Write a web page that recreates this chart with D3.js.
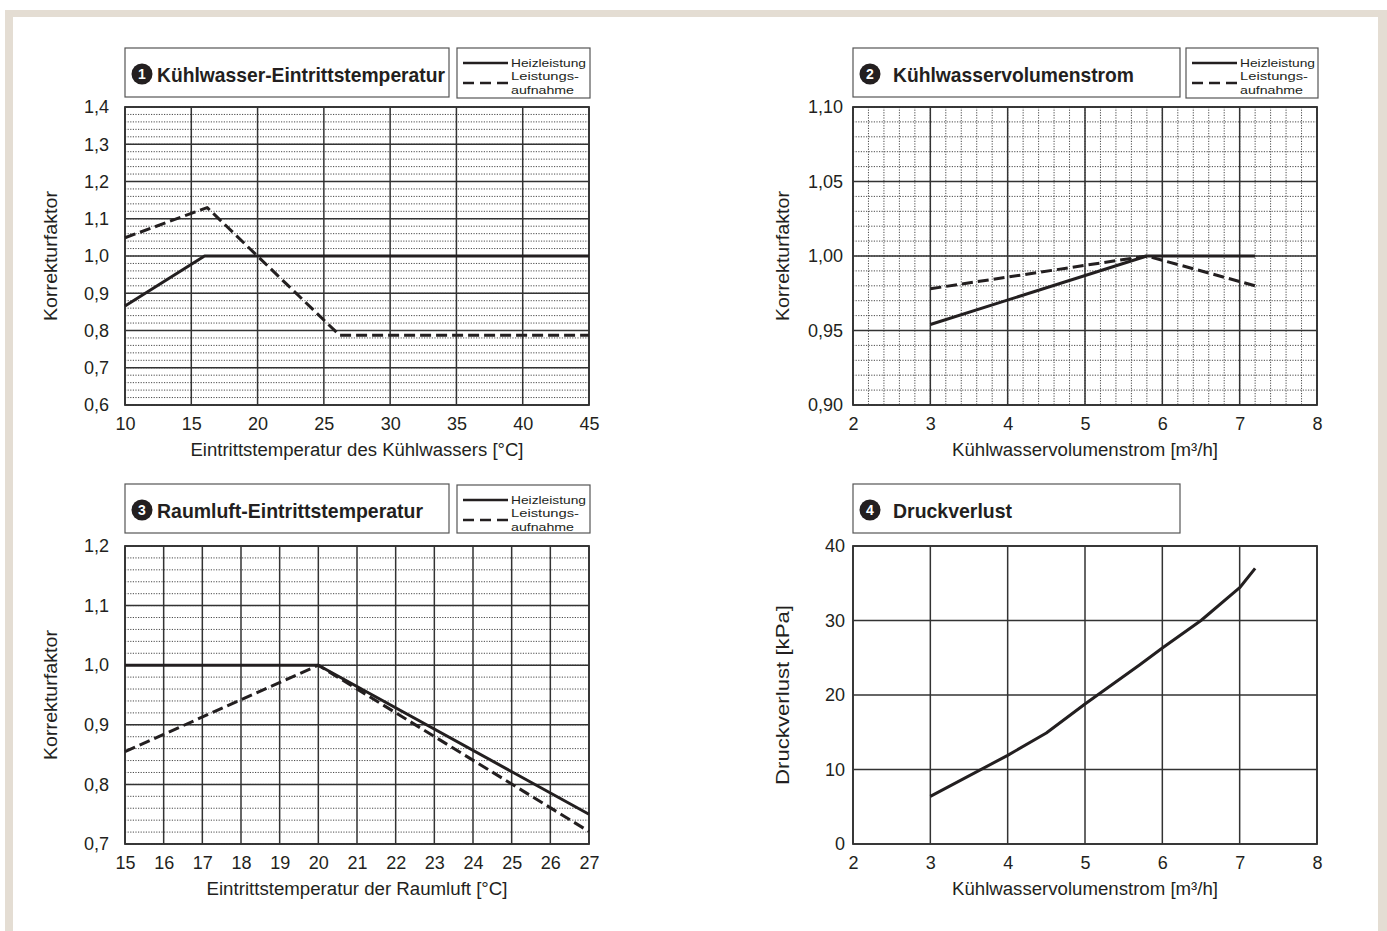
<!DOCTYPE html>
<html>
<head>
<meta charset="utf-8">
<script src="https://cdn.jsdelivr.net/npm/d3@7"></script>
<style>
  body { margin: 0; background: #fff; }
  text { font-family: 'Liberation Sans Narrow', 'Liberation Sans', Arial, sans-serif; fill: #231f20; }
  .num { font-family: 'Liberation Sans', Arial, sans-serif; }
</style>
</head>
<body>
<svg id="chart" width="1387" height="931"></svg>
<script>
// ---- Tick labels ----
const p1XTicks = [10, 15, 20, 25, 30, 35, 40, 45];
const p1YTicks = [0.6, 0.7, 0.8, 0.9, 1.0, 1.1, 1.2, 1.3, 1.4];
const p2XTicks = [2, 3, 4, 5, 6, 7, 8];
const p2YTicks = [0.90, 0.95, 1.00, 1.05, 1.10];
const p3XTicks = [15, 16, 17, 18, 19, 20, 21, 22, 23, 24, 25, 26, 27];
const p3YTicks = [0.7, 0.8, 0.9, 1.0, 1.1, 1.2];
const p4XTicks = [2, 3, 4, 5, 6, 7, 8];
const p4YTicks = [0, 10, 20, 30, 40];

// ---- Series ----
// 1: Kühlwasser-Eintrittstemperatur [°C] -> Korrekturfaktor
const p1TempHeiz = [10, 16, 45];
const p1Heizleistung = [0.866, 1.0, 1.0];
const p1TempAuf = [10, 16.2, 26.2, 45];
const p1Leistungsaufnahme = [1.049, 1.13, 0.787, 0.787];

// 2: Kühlwasservolumenstrom [m³/h] -> Korrekturfaktor
const p2FlowHeiz = [3, 5.8, 7.2];
const p2Heizleistung = [0.954, 1.0, 1.0];
const p2FlowAuf = [3, 5.8, 7.2];
const p2Leistungsaufnahme = [0.978, 1.0, 0.980];

// 3: Raumluft-Eintrittstemperatur [°C] -> Korrekturfaktor
const p3TempHeiz = [15, 20, 27];
const p3Heizleistung = [1.0, 1.0, 0.75];
const p3TempAuf = [15, 20, 27];
const p3Leistungsaufnahme = [0.855, 1.0, 0.721];

// 4: Kühlwasservolumenstrom [m³/h] -> Druckverlust [kPa]
const p4Flow = [3, 4, 4.5, 5, 5.7, 6, 6.5, 7, 7.2];
const p4Druckverlust = [6.4, 11.9, 14.9, 18.8, 24.0, 26.3, 30.0, 34.4, 37.0];

// ---- Legend entries ----
const legendLines = ['Heizleistung', 'Leistungs-', 'aufnahme'];

const svg = d3.select('#chart');
const INK = '#231f20';

// page frame
svg.append('rect').attr('x', 5).attr('y', 10).attr('width', 1382).attr('height', 931).attr('fill', '#e4ddd3');
svg.append('rect').attr('x', 13).attr('y', 17).attr('width', 1365).attr('height', 931).attr('fill', '#fff');

function comma(d, digits) {
  return d.toFixed(digits).replace('.', ',');
}

function panel(cfg) {
  const g = svg.append('g');
  const x = d3.scaleLinear().domain(cfg.xDomain).range([cfg.left, cfg.right]);
  const y = d3.scaleLinear().domain(cfg.yDomain).range([cfg.bottom, cfg.top]);

  const eps = 1e-9;
  // minor grid (dotted)
  if (cfg.yMinor) {
    const vals = d3.range(cfg.yDomain[0], cfg.yDomain[1] + eps, cfg.yMinor);
    g.append('g').selectAll('line').data(vals).join('line')
      .attr('x1', cfg.left).attr('x2', cfg.right)
      .attr('y1', d => y(d)).attr('y2', d => y(d))
      .attr('stroke', '#4a4a4a').attr('stroke-width', 1).attr('stroke-dasharray', '1.2,1.4');
  }
  if (cfg.xMinor) {
    const vals = d3.range(cfg.xDomain[0], cfg.xDomain[1] + eps, cfg.xMinor);
    g.append('g').selectAll('line').data(vals).join('line')
      .attr('y1', cfg.top).attr('y2', cfg.bottom)
      .attr('x1', d => x(d)).attr('x2', d => x(d))
      .attr('stroke', '#4a4a4a').attr('stroke-width', 1).attr('stroke-dasharray', '1.2,1.4');
  }
  // major grid
  g.append('g').selectAll('line').data(cfg.yTicks).join('line')
    .attr('x1', cfg.left).attr('x2', cfg.right)
    .attr('y1', d => y(d)).attr('y2', d => y(d))
    .attr('stroke', '#333').attr('stroke-width', 1.5);
  g.append('g').selectAll('line').data(cfg.xGrid).join('line')
    .attr('y1', cfg.top).attr('y2', cfg.bottom)
    .attr('x1', d => x(d)).attr('x2', d => x(d))
    .attr('stroke', '#333').attr('stroke-width', 1.5);
  g.append('rect').attr('x', cfg.left).attr('y', cfg.top)
    .attr('width', cfg.right - cfg.left).attr('height', cfg.bottom - cfg.top)
    .attr('fill', 'none').attr('stroke', '#333').attr('stroke-width', 1.8);

  // axes (labels only)
  const ax = g.append('g').attr('transform', `translate(0,${cfg.bottom})`)
    .call(d3.axisBottom(x).tickValues(cfg.xTicks).tickSize(0).tickPadding(12).tickFormat(d => d));
  ax.select('.domain').remove();
  ax.selectAll('text').attr('class', 'num').attr('font-size', 18).attr('fill', INK).attr('font-family', null);

  const ay = g.append('g').attr('transform', `translate(${cfg.left},0)`)
    .call(d3.axisLeft(y).tickValues(cfg.yTicks).tickSize(0).tickPadding(cfg.yPad).tickFormat(d => comma(d, cfg.yDigits)));
  ay.select('.domain').remove();
  ay.selectAll('text').attr('class', 'num').attr('font-size', 18).attr('fill', INK).attr('font-family', null);

  // axis titles
  g.append('text').attr('x', (cfg.left + cfg.right) / 2).attr('y', cfg.bottom + 51)
    .attr('text-anchor', 'middle').attr('font-size', 18)
    .attr('textLength', cfg.xTitleLen).attr('lengthAdjust', 'spacingAndGlyphs')
    .text(cfg.xTitle);
  g.append('text')
    .attr('transform', `translate(${cfg.yTitleX},${(cfg.top + cfg.bottom) / 2}) rotate(-90)`)
    .attr('text-anchor', 'middle').attr('font-size', 18)
    .attr('textLength', cfg.yTitleLen).attr('lengthAdjust', 'spacingAndGlyphs')
    .text(cfg.yTitle);

  // title box
  const tb = cfg.titleBox;
  g.append('rect').attr('x', tb[0]).attr('y', tb[1]).attr('width', tb[2]).attr('height', tb[3])
    .attr('fill', '#fff').attr('stroke', '#555').attr('stroke-width', 1.2);
  g.append('circle').attr('cx', cfg.circleX).attr('cy', tb[1] + 26).attr('r', 10.5).attr('fill', INK);
  g.append('text').attr('class', 'num').attr('x', cfg.circleX).attr('y', tb[1] + 31)
    .attr('text-anchor', 'middle').attr('font-size', 14).attr('font-weight', 'bold')
    .style('fill', '#fff').text(cfg.num);
  g.append('text').attr('x', cfg.titleX).attr('y', tb[1] + 34)
    .attr('font-size', 21).attr('font-weight', 'bold')
    .attr('textLength', cfg.titleLen).attr('lengthAdjust', 'spacingAndGlyphs')
    .text(cfg.title);

  // legend box
  if (cfg.legendBox) {
    const lb = cfg.legendBox;
    g.append('rect').attr('x', lb[0]).attr('y', lb[1]).attr('width', lb[2]).attr('height', lb[3])
      .attr('fill', '#fff').attr('stroke', '#555').attr('stroke-width', 1.2);
    const lx = lb[0] + 6, ly = lb[1];
    g.append('line').attr('x1', lx).attr('x2', lx + 45).attr('y1', ly + 15).attr('y2', ly + 15)
      .attr('stroke', INK).attr('stroke-width', 2.6);
    g.append('line').attr('x1', lx).attr('x2', lx + 45).attr('y1', ly + 35).attr('y2', ly + 35)
      .attr('stroke', INK).attr('stroke-width', 2.6).attr('stroke-dasharray', '11,6');
    const tx = lx + 48;
    const lens = [75, 68, 63];
    legendLines.forEach((t, i) => {
      g.append('text').attr('x', tx).attr('y', ly + 19 + i * 13.3).attr('font-size', 11.6)
        .attr('textLength', lens[i]).attr('lengthAdjust', 'spacingAndGlyphs').text(t);
    });
  }

  // series
  const line = d3.line().x(d => x(d[0])).y(d => y(d[1]));
  cfg.series.forEach(s => {
    const pts = s.xs.map((v, i) => [v, s.ys[i]]);
    g.append('path').datum(pts).attr('d', line)
      .attr('fill', 'none').attr('stroke', INK).attr('stroke-width', 3)
      .attr('stroke-linejoin', 'round')
      .attr('stroke-dasharray', s.dashed ? '11,5' : null);
  });
}

panel({
  left: 125, right: 589, top: 107, bottom: 405,
  xDomain: [10, 45], yDomain: [0.6, 1.4],
  xTicks: p1XTicks, xGrid: p1XTicks, yTicks: p1YTicks, yMinor: 0.02, yDigits: 1, yPad: 16,
  xTitle: 'Eintrittstemperatur des Kühlwassers [°C]', xTitleLen: 333,
  yTitle: 'Korrekturfaktor', yTitleX: 57, yTitleLen: 130,
  titleBox: [125, 48, 324, 49], circleX: 142, titleX: 157, titleLen: 288, num: '1',
  title: 'Kühlwasser-Eintrittstemperatur',
  legendBox: [457, 48, 133, 50],
  series: [
    { xs: p1TempHeiz, ys: p1Heizleistung, dashed: false },
    { xs: p1TempAuf, ys: p1Leistungsaufnahme, dashed: true }
  ]
});

panel({
  left: 853, right: 1317, top: 107, bottom: 405,
  xDomain: [2, 8], yDomain: [0.90, 1.10],
  xTicks: p2XTicks, xGrid: p2XTicks, yTicks: p2YTicks, yMinor: 0.01, xMinor: 0.2, yDigits: 2, yPad: 10,
  xTitle: 'Kühlwasservolumenstrom [m³/h]', xTitleLen: 266,
  yTitle: 'Korrekturfaktor', yTitleX: 789, yTitleLen: 130,
  titleBox: [853, 48, 327, 49], circleX: 870, titleX: 893, titleLen: 241, num: '2',
  title: 'Kühlwasservolumenstrom',
  legendBox: [1186, 48, 132, 50],
  series: [
    { xs: p2FlowHeiz, ys: p2Heizleistung, dashed: false },
    { xs: p2FlowAuf, ys: p2Leistungsaufnahme, dashed: true }
  ]
});

panel({
  left: 125, right: 589, top: 546, bottom: 844,
  xDomain: [15, 27], yDomain: [0.7, 1.2],
  xTicks: p3XTicks, xGrid: p3XTicks, yTicks: p3YTicks, yMinor: 0.02, yDigits: 1, yPad: 16,
  xTitle: 'Eintrittstemperatur der Raumluft [°C]', xTitleLen: 301,
  yTitle: 'Korrekturfaktor', yTitleX: 57, yTitleLen: 130,
  titleBox: [125, 484, 324, 49], circleX: 142, titleX: 157, titleLen: 266, num: '3',
  title: 'Raumluft-Eintrittstemperatur',
  legendBox: [457, 485, 133, 48],
  series: [
    { xs: p3TempHeiz, ys: p3Heizleistung, dashed: false },
    { xs: p3TempAuf, ys: p3Leistungsaufnahme, dashed: true }
  ]
});

panel({
  left: 853, right: 1317, top: 546, bottom: 844,
  xDomain: [2, 8], yDomain: [0, 40],
  xTicks: p4XTicks, xGrid: p4XTicks, yTicks: p4YTicks, yDigits: 0, yPad: 8,
  xTitle: 'Kühlwasservolumenstrom [m³/h]', xTitleLen: 266,
  yTitle: 'Druckverlust [kPa]', yTitleX: 789, yTitleLen: 180,
  titleBox: [853, 484, 327, 49], circleX: 870, titleX: 893, titleLen: 119, num: '4',
  title: 'Druckverlust',
  series: [
    { xs: p4Flow, ys: p4Druckverlust, dashed: false }
  ]
});
</script>
</body>
</html>
